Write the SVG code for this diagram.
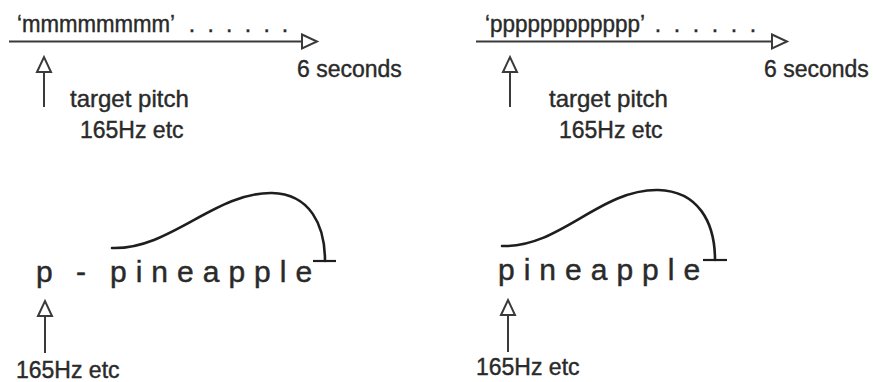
<svg xmlns="http://www.w3.org/2000/svg" width="873" height="382" viewBox="0 0 873 382">
  <style>
    .lbl { font-family: "Liberation Sans", Arial, sans-serif; font-size: 23px; fill: #2a2a2a; stroke: #2a2a2a; stroke-width: 0.4; }
    .tp { font-size: 24px; }
    .big { font-family: "Liberation Sans", Arial, sans-serif; font-size: 30px; fill: #2a2a2a; stroke: #2a2a2a; stroke-width: 0.45; letter-spacing: 9px; }
    .axis { stroke: #3a3a3a; stroke-width: 2; fill: none; }
    .curve { stroke: #1e1e1e; stroke-width: 2.6; fill: none; stroke-linecap: round; }
    .bar { stroke: #1e1e1e; stroke-width: 2.2; fill: none; }
  </style>
  <defs>
    <marker id="open" markerUnits="userSpaceOnUse" markerWidth="20" markerHeight="20" refX="1" refY="8" orient="auto" viewBox="-1 -1 20 18">
      <path d="M1,1 L16,8 L1,15 Z" fill="#fff" stroke="#3a3a3a" stroke-width="2" stroke-linejoin="miter"/>
    </marker>
  </defs>
  <rect width="873" height="382" fill="#fff"/>

  <g id="connectors">
    <line class="axis" x1="9" y1="41.5" x2="302" y2="41.5" marker-end="url(#open)"/>
    <line class="axis" x1="476" y1="41.5" x2="772" y2="41.5" marker-end="url(#open)"/>
    <line class="axis" x1="44" y1="107" x2="44" y2="72" marker-end="url(#open)"/>
    <line class="axis" x1="510" y1="107" x2="510" y2="72" marker-end="url(#open)"/>
    <line class="axis" x1="45" y1="353" x2="45" y2="316" marker-end="url(#open)"/>
    <line class="axis" x1="508" y1="352" x2="508" y2="315" marker-end="url(#open)"/>
  </g>

  <g id="top-left">
    <text class="lbl" x="17" y="32" textLength="158" lengthAdjust="spacingAndGlyphs">‘mmmmmmmm’</text>
    <text class="lbl" x="188.8 207.5 226.1 244.8 263.5 281.8" y="32">......</text>
    <text class="lbl" x="297" y="77">6 seconds</text>
    <text class="lbl tp" x="70" y="107">target pitch</text>
    <text class="lbl" x="80" y="138">165Hz etc</text>
  </g>

  <g id="top-right">
    <text class="lbl" x="485" y="32" textLength="160" lengthAdjust="spacingAndGlyphs">‘pppppppppppp’</text>
    <text class="lbl" x="654.8 673.8 692.8 711.8 730.8 749.8" y="32">......</text>
    <text class="lbl" x="764" y="77">6 seconds</text>
    <text class="lbl tp" x="549" y="107">target pitch</text>
    <text class="lbl" x="559" y="138">165Hz etc</text>
  </g>

  <g id="bottom-left">
    <path class="curve" d="M112,248 C170,250 215,192 272,193 C310,194 325,225 325,261"/>
    <line class="bar" x1="313" y1="261" x2="336" y2="261"/>
    <text class="big" x="36" y="282">p</text>
    <text class="big" x="76" y="282">-</text>
    <text class="big" x="110" y="282">pineapple</text>
    <text class="lbl" x="16" y="378">165Hz etc</text>
  </g>

  <g id="bottom-right">
    <path class="curve" d="M502,246 C560,248 600,189 658,190 C698,191 715,222 715,260"/>
    <line class="bar" x1="703" y1="260" x2="727" y2="260"/>
    <text class="big" x="498" y="280">pineapple</text>
    <text class="lbl" x="476" y="375">165Hz etc</text>
  </g>
</svg>
